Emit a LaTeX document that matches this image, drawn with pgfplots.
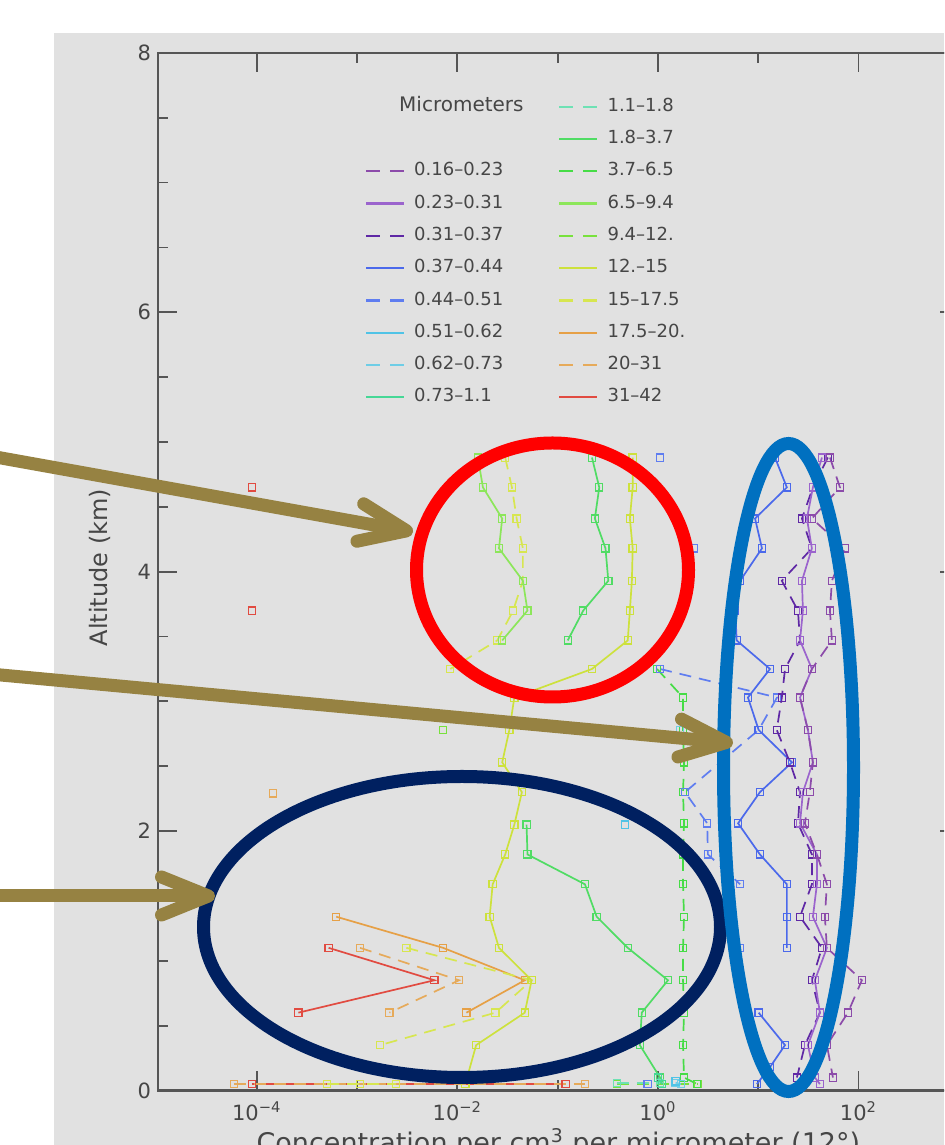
\documentclass[border=0pt]{standalone}
\usepackage{fontspec}
\setmainfont{DejaVu Sans}
\usepackage{pgfplots}
\pgfplotsset{compat=1.18}
\usetikzlibrary{arrows.meta}

\definecolor{bg}{RGB}{225,225,225}
\definecolor{txt}{RGB}{70,70,70}
\definecolor{frame}{RGB}{85,85,85}
\definecolor{c1}{RGB}{140,75,170}
\definecolor{c2}{RGB}{155,100,205}
\definecolor{c3}{RGB}{95,40,165}
\definecolor{c4}{RGB}{75,105,235}
\definecolor{c5}{RGB}{95,125,240}
\definecolor{c6}{RGB}{80,195,230}
\definecolor{c7}{RGB}{110,205,230}
\definecolor{c8}{RGB}{70,215,150}
\definecolor{c9}{RGB}{110,225,180}
\definecolor{c10}{RGB}{80,220,100}
\definecolor{c11}{RGB}{70,220,70}
\definecolor{c12}{RGB}{140,230,90}
\definecolor{c13}{RGB}{120,225,60}
\definecolor{c14}{RGB}{205,225,60}
\definecolor{c15}{RGB}{215,230,80}
\definecolor{c16}{RGB}{230,160,70}
\definecolor{c17}{RGB}{230,170,90}
\definecolor{c18}{RGB}{225,75,65}
\definecolor{annRed}{RGB}{255,0,0}
\definecolor{annBlue}{RGB}{0,112,192}
\definecolor{annNavy}{RGB}{0,32,96}
\definecolor{annArrow}{RGB}{150,130,66}

\pgfplotsset{
  dsh/.style={dash pattern=on 6pt off 4pt},
  ldsh/.style={dash pattern=on 7pt off 5pt},
}

\begin{document}
\begin{tikzpicture}
\useasboundingbox (0,0) rectangle (472pt,572.5pt);
\clip (0,0) rectangle (472pt,572.5pt);
\fill[white] (0,0) rectangle (472pt,572.5pt);
\fill[bg] (27pt,0) rectangle (472pt,556pt);
\begin{axis}[
  at={(79pt,27.25pt)}, anchor=south west,
  scale only axis, width=400.4pt, height=518.8pt,
  xmode=log, xmin=1.035e-5, xmax=1e3, ymin=0, ymax=8,
  xtick={1e-4,1e-2,1,1e2},
  xticklabels={10\textsuperscript{−4},10\textsuperscript{−2},10\textsuperscript{0},10\textsuperscript{2}},
  minor xtick={1e-5,1e-3,1e-1,1e1,1e3},
  ytick={0,2,4,6,8}, yticklabels={0,2,4,6,8},
  minor ytick={0.5,1,1.5,2.5,3,3.5,4.5,5,5.5,6.5,7,7.5},
  tick align=inside,
  major tick length=9.5pt, minor tick length=5pt,
  every tick/.style={frame, line width=0.9pt},
  axis line style={frame, line width=1.2pt},
  tick label style={font=\fontsize{10.5}{12}\selectfont, text=txt},
  xticklabel style={yshift=-2pt},
  xlabel={Concentration per cm\textsuperscript{3} per micrometer (12°)},
  xlabel style={font=\fontsize{13.5}{16}\selectfont, text=txt, at={(axis description cs:0.5,-0.0602)}, anchor=base},
  ylabel={Altitude (km)},
  ylabel style={font=\fontsize{12}{14}\selectfont, text=txt, at={(axis description cs:-0.0724,0.504)}, anchor=center},
  every axis plot/.append style={line width=0.85pt, mark=square, mark size=1.8pt, mark options={solid, line width=0.6pt}},
  legend columns=2, legend cell align=left,
  legend image code/.code={\draw[#1] (0pt,0pt) -- (19pt,0pt);},
  legend style={
    at={(axis description cs:0.2585,0.9565)}, anchor=north west,
    draw=none, fill=none, inner sep=0pt, outer sep=0pt,
    font=\fontsize{9}{10}\selectfont, text=txt,
    row sep=7.55pt,
    nodes={inner sep=0pt, text height=6.6pt, text depth=2pt},
    /tikz/every odd column/.style={column sep=4.5pt},
    /tikz/every even column/.style={column sep=27.5pt},
  },
]
% ---------- legend (row-wise, two columns) ----------
\addlegendimage{empty legend}\addlegendentry{\makebox[0pt][l]{\hspace*{-8pt}\fontsize{10}{12}\selectfont Micrometers}}
\addlegendimage{c9, ldsh, line width=1.1pt}\addlegendentry{1.1–1.8}
\addlegendimage{empty legend}\addlegendentry{}
\addlegendimage{c10, solid, line width=1.1pt}\addlegendentry{1.8–3.7}
\addlegendimage{c1, ldsh, line width=1.1pt}\addlegendentry{0.16–0.23}
\addlegendimage{c11, ldsh, line width=1.1pt}\addlegendentry{3.7–6.5}
\addlegendimage{c2, solid, line width=1.1pt}\addlegendentry{0.23–0.31}
\addlegendimage{c12, solid, line width=1.1pt}\addlegendentry{6.5–9.4}
\addlegendimage{c3, ldsh, line width=1.1pt}\addlegendentry{0.31–0.37}
\addlegendimage{c13, ldsh, line width=1.1pt}\addlegendentry{9.4–12.}
\addlegendimage{c4, solid, line width=1.1pt}\addlegendentry{0.37–0.44}
\addlegendimage{c14, solid, line width=1.1pt}\addlegendentry{12.–15}
\addlegendimage{c5, ldsh, line width=1.1pt}\addlegendentry{0.44–0.51}
\addlegendimage{c15, ldsh, line width=1.1pt}\addlegendentry{15–17.5}
\addlegendimage{c6, solid, line width=1.1pt}\addlegendentry{0.51–0.62}
\addlegendimage{c16, solid, line width=1.1pt}\addlegendentry{17.5–20.}
\addlegendimage{c7, ldsh, line width=1.1pt}\addlegendentry{0.62–0.73}
\addlegendimage{c17, ldsh, line width=1.1pt}\addlegendentry{20–31}
\addlegendimage{c8, solid, line width=1.1pt}\addlegendentry{0.73–1.1}
\addlegendimage{c18, solid, line width=1.1pt}\addlegendentry{31–42}

% ---------- 31-42 (red) ----------
\addplot[c18, forget plot] coordinates {(8.9e-5,4.65)};
\addplot[c18, forget plot] coordinates {(8.9e-5,3.70)};
\addplot[c18, forget plot] coordinates {(5.2e-4,1.10)(5.9e-3,0.85)(2.6e-4,0.60)};
\addplot[c18, forget plot] coordinates {(8.9e-5,0.05)(0.12,0.05)};
% ---------- 20-31 (orange dashed) ----------
\addplot[c17, dsh, forget plot] coordinates {(1.45e-4,2.29)};
\addplot[c17, dsh, forget plot] coordinates {(1.07e-3,1.10)(1.04e-2,0.85)(2.1e-3,0.60)};
\addplot[c17, dsh, forget plot] coordinates {(5.9e-5,0.05)(0.187,0.05)};
% ---------- 17.5-20 (orange) ----------
\addplot[c16, forget plot] coordinates {(6.2e-4,1.34)(7.2e-3,1.10)(0.047,0.85)(0.0123,0.60)};
% ---------- 15-17.5 (yellow dashed) ----------
\addplot[c15, dsh, forget plot] coordinates {(0.030,4.88)(0.035,4.65)(0.039,4.41)(0.045,4.18)(0.045,3.93)(0.036,3.70)(0.025,3.47)(0.0085,3.25)};
\addplot[c15, dsh, forget plot] coordinates {(0.0031,1.10)(0.055,0.85)(0.024,0.60)(0.0017,0.35)};
\addplot[c15, dsh, forget plot] coordinates {(5.0e-4,0.05)(1.07e-3,0.05)(2.45e-3,0.05)};
% ---------- 12-15 (yellow) ----------
\addplot[c14, forget plot] coordinates {(0.56,4.88)(0.56,4.65)(0.525,4.41)(0.56,4.18)(0.55,3.93)(0.525,3.70)(0.50,3.47)(0.22,3.25)(0.037,3.03)(0.033,2.78)(0.028,2.53)(0.044,2.30)(0.037,2.05)(0.030,1.82)(0.0225,1.59)(0.021,1.34)(0.026,1.10)(0.055,0.85)(0.047,0.60)(0.0154,0.35)(0.012,0.05)};
% ---------- 9.4-12 (green dashed) ----------
\addplot[c13, dsh, forget plot] coordinates {(0.0072,2.78)};
\addplot[c13, dsh, forget plot] coordinates {(0.39,0.05)(2.5,0.05)};
% ---------- 6.5-9.4 (light green) ----------
\addplot[c12, forget plot] coordinates {(0.016,4.88)(0.018,4.65)(0.028,4.41)(0.026,4.18)(0.045,3.93)(0.050,3.70)(0.028,3.47)};
% ---------- 3.7-6.5 (green dashed) ----------
\addplot[c11, dsh, forget plot] coordinates {(0.98,3.25)(1.78,3.03)(1.78,2.78)(1.82,2.53)(1.78,2.30)(1.82,2.06)(1.78,1.82)(1.78,1.59)(1.82,1.34)(1.78,1.10)(1.78,0.85)(1.82,0.60)(1.78,0.35)(1.82,0.10)(2.45,0.05)};
% ---------- 1.8-3.7 (green) ----------
\addplot[c10, forget plot] coordinates {(0.22,4.88)(0.26,4.65)(0.235,4.41)(0.30,4.18)(0.32,3.93)(0.18,3.70)(0.126,3.47)};
\addplot[c10, forget plot] coordinates {(0.049,2.05)(0.050,1.82)(0.187,1.59)(0.245,1.34)(0.50,1.10)(1.26,0.85)(0.69,0.60)(0.66,0.35)(1.05,0.10)(1.1,0.05)};
% ---------- 1.1-1.8 ----------
\addplot[c9, dsh, forget plot] coordinates {(0.39,0.06)(1.05,0.06)};
% ---------- 0.73-1.1 ----------
\addplot[c8, forget plot] coordinates {(1.0,0.10)(1.1,0.05)};
% ---------- 0.62-0.73 ----------
\addplot[c7, dsh, forget plot] coordinates {(1.66,2.78)};
\addplot[c7, dsh, forget plot] coordinates {(1.5,0.06)(1.7,0.05)};
% ---------- 0.51-0.62 ----------
\addplot[c6, forget plot] coordinates {(0.47,2.05)};
\addplot[c6, forget plot] coordinates {(1.5,0.07)};
% ---------- 0.44-0.51 (blue dashed) ----------
\addplot[c5, dsh, forget plot] coordinates {(1.05,4.88)};
\addplot[c5, dsh, forget plot] coordinates {(2.3,4.18)};
\addplot[c5, dsh, forget plot] coordinates {(1.05,3.25)(15.4,3.03)(10.1,2.78)(1.86,2.30)(3.1,2.06)(3.15,1.82)(6.6,1.59)};
\addplot[c5, dsh, forget plot] coordinates {(6.6,1.10)};
\addplot[c5, dsh, forget plot] coordinates {(0.79,0.05)};
% ---------- 0.37-0.44 (blue) ----------
\addplot[c4, forget plot] coordinates {(14.7,4.88)(19.3,4.65)(9.3,4.41)(10.9,4.18)(6.6,3.93)(5.9,3.70)(6.1,3.47)(13.1,3.25)(7.9,3.03)(10.1,2.78)(21.7,2.53)(10.4,2.30)(6.3,2.06)(10.4,1.82)(19.3,1.59)(19.3,1.34)(19.3,1.10)};
\addplot[c4, forget plot] coordinates {(10.1,0.60)(18.5,0.35)(13.1,0.18)(9.7,0.05)};
% ---------- 0.31-0.37 (dark purple dashed) ----------
\addplot[c3, dsh, forget plot] coordinates {(49.5,4.88)(35.1,4.65)(27.3,4.41)(34.3,4.18)(17.2,3.93)(24.9,3.70)(26.1,3.47)(18.5,3.25)(17.2,3.03)(15.3,2.78)(20.7,2.53)(26.1,2.30)(24.9,2.06)(34.3,1.82)(34.3,1.59)(26.1,1.34)(43.2,1.10)(34.3,0.85)(41.2,0.60)(29.2,0.35)(24.3,0.10)};
% ---------- 0.23-0.31 (purple) ----------
\addplot[c2, forget plot] coordinates {(43.2,4.88)(35.1,4.65)(30.6,4.41)(34.3,4.18)(27.3,3.93)(27.9,3.70)(26.1,3.47)(34.3,3.25)(26.1,3.03)(31.3,2.78)(35.1,2.53)(27.9,2.30)(26.1,2.06)(38.5,1.82)(38.5,1.59)(35.1,1.34)(48.4,1.10)(36.7,0.85)(41.2,0.60)(31.3,0.35)(36.7,0.10)(41.2,0.05)};
% ---------- 0.16-0.23 (purple dashed) ----------
\addplot[c1, dsh, forget plot] coordinates {(51.9,4.88)(65.3,4.65)(34.3,4.41)(73.1,4.18)(54.3,3.93)(51.9,3.70)(54.3,3.47)(34.3,3.25)(26.1,3.03)(31.3,2.78)(35.1,2.53)(32.7,2.30)(29.2,2.06)(38.5,1.82)(48.4,1.59)(46.2,1.34)(48.4,1.10)(108,0.85)(78.4,0.60)(48.4,0.35)(55.6,0.10)};
\end{axis}

% ---------- annotations (pixel coordinates of the figure) ----------
\begin{scope}[x=0.5pt, y=-0.5pt, yshift=572.5pt]
\draw[annRed, line width=6.5pt] (552.5,570) ellipse [x radius=136, y radius=127];
\draw[annNavy, line width=6.5pt] (462,927) ellipse [x radius=258.5, y radius=150.5];
\draw[annBlue, line width=6.5pt] (788.5,767.5) ellipse [x radius=65, y radius=324];
\draw[annArrow, line width=6.5pt, line cap=round, -{Straight Barb[length=23.5pt, width=19pt, round]}] (-10,456) -- (413,532);
\draw[annArrow, line width=6.5pt, line cap=round, -{Straight Barb[length=23.5pt, width=19pt, round]}] (-10,674) -- (733,743);
\draw[annArrow, line width=6.5pt, line cap=round, -{Straight Barb[length=23.5pt, width=19pt, round]}] (-10,896) -- (215,896);
\end{scope}
\end{tikzpicture}
\end{document}
